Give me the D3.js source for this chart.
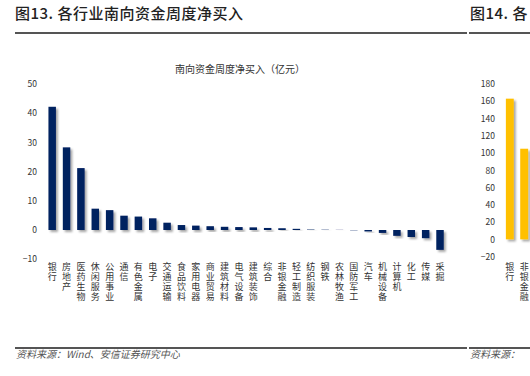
<!DOCTYPE html>
<html>
<head>
<meta charset="utf-8">
<script src="https://cdn.jsdelivr.net/npm/d3@7"></script>
<style>
  body { margin: 0; background: #fff; }
  text { font-family: "Noto Sans CJK SC", "Noto Sans", sans-serif; }
</style>
</head>
<body>
<svg id="mySvg"></svg>
<script>
// Industry names (left chart)
const categories = ["银行", "房地产", "医药生物", "休闲服务", "公用事业", "通信", "有色金属", "电子",
  "交通运输", "食品饮料", "家用电器", "商业贸易", "建筑材料", "电气设备", "建筑装饰", "综合",
  "非银金融", "轻工制造", "纺织服装", "钢铁", "农林牧渔", "国防军工", "汽车", "机械设备",
  "计算机", "化工", "传媒", "采掘"];
// Weekly southbound net buy, 100m CNY
const netBuy = [42.2, 28.3, 21.2, 7.3, 6.8, 4.9, 4.6, 4.0, 2.5, 1.7, 1.5, 1.3, 1.1, 1.0, 0.9, 0.7,
  0.6, 0.4, 0.15, 0.1, 0.05, -0.1, -0.5, -1.0, -2.0, -2.4, -2.8, -6.8];
const leftTicks = [50, 40, 30, 20, 10, 0, -10];

// Right chart (only partly visible)
const rightCategories = ["银行", "非银金融"];
const rightValues = [163, 105];
const rightTicks = [180, 160, 140, 120, 100, 80, 60, 40, 20, 0, -20];

const width = 530, height = 376;
const svg = d3.select("#mySvg").attr("width", width).attr("height", height);

// drop shadow for bars
const defs = svg.append("defs");
const f = defs.append("filter").attr("id", "shadow")
  .attr("x", "-50%").attr("y", "-50%").attr("width", "200%").attr("height", "200%");
f.append("feDropShadow").attr("dx", 2).attr("dy", 2).attr("stdDeviation", 1.2)
  .attr("flood-color", "#000").attr("flood-opacity", 0.35);

// header + footer
svg.append("text").attr("x", 15).attr("y", 19)
  .attr("font-size", 15).attr("letter-spacing", 0.5).attr("font-weight", 500).attr("fill", "#222")
  .text("图13. 各行业南向资金周度净买入");
svg.append("text").attr("x", 470).attr("y", 19)
  .attr("font-size", 15).attr("letter-spacing", 0.5).attr("font-weight", 500).attr("fill", "#222")
  .text("图14. 各");
svg.append("rect").attr("x", 15).attr("y", 32).attr("width", 452).attr("height", 2).attr("fill", "#555");
svg.append("rect").attr("x", 469).attr("y", 32).attr("width", 61).attr("height", 2).attr("fill", "#555");
svg.append("rect").attr("x", 15).attr("y", 347).attr("width", 452).attr("height", 2).attr("fill", "#555");
svg.append("rect").attr("x", 469).attr("y", 347).attr("width", 61).attr("height", 2).attr("fill", "#555");
svg.append("text").attr("x", 16).attr("y", 358)
  .attr("font-size", 10).attr("font-style", "italic").attr("fill", "#555")
  .text("资料来源：Wind、安信证券研究中心");
svg.append("text").attr("x", 470).attr("y", 358)
  .attr("font-size", 10).attr("font-style", "italic").attr("fill", "#555")
  .text("资料来源：");

// chart title
svg.append("text").attr("x", 240).attr("y", 73).attr("text-anchor", "middle")
  .attr("font-size", 10).attr("fill", "#333")
  .text("南向资金周度净买入（亿元）");

// ---- left chart ----
const x = d3.scaleBand().domain(categories).range([45, 447.2]).paddingInner(0.48).paddingOuter(0.24);
const y = d3.scaleLinear().domain([-10, 50]).range([259.2, 84]);

const yAxis = svg.append("g").attr("transform", "translate(37,0)")
  .call(d3.axisLeft(y).tickValues(leftTicks).tickSize(0).tickPadding(0));
yAxis.select(".domain").remove();
yAxis.selectAll("text").attr("font-size", 8.5).attr("fill", "#333")
  .attr("font-family", "'Liberation Sans', sans-serif");

svg.append("g").selectAll("rect").data(netBuy).join("rect")
  .attr("x", (d, i) => x(categories[i]))
  .attr("width", x.bandwidth())
  .attr("y", d => y(Math.max(0, d)))
  .attr("height", d => Math.abs(y(d) - y(0)))
  .attr("fill", "#002060")
  .attr("filter", "url(#shadow)");

// vertical category labels, one character per text element
function vLabels(g, cats, scale, top, size) {
  g.selectAll("g").data(cats).join("g")
    .attr("transform", d => `translate(${scale(d) + scale.bandwidth() / 2},${top})`)
    .selectAll("text").data(d => Array.from(d)).join("text")
    .attr("y", (ch, k) => k * (size + 1))
    .attr("font-size", size).attr("fill", "#333").attr("text-anchor", "middle")
    .text(ch => ch);
}
vLabels(svg.append("g"), categories, x, 270, 9);

// ---- right chart ----
const x2 = d3.scaleBand().domain(rightCategories).range([503, 531]).paddingInner(0.45).paddingOuter(0.2);
const y2 = d3.scaleLinear().domain([-20, 180]).range([256.6, 84]);

const yAxis2 = svg.append("g").attr("transform", "translate(495,0)")
  .call(d3.axisLeft(y2).tickValues(rightTicks).tickSize(0).tickPadding(0));
yAxis2.select(".domain").remove();
yAxis2.selectAll("text").attr("font-size", 8.5).attr("fill", "#333")
  .attr("font-family", "'Liberation Sans', sans-serif");

svg.append("g").selectAll("rect").data(rightValues).join("rect")
  .attr("x", (d, i) => x2(rightCategories[i]))
  .attr("width", x2.bandwidth())
  .attr("y", d => y2(Math.max(0, d)))
  .attr("height", d => Math.abs(y2(d) - y2(0)))
  .attr("fill", "#FFC000")
  .attr("filter", "url(#shadow)");

vLabels(svg.append("g"), rightCategories, x2, 270, 9);
</script>
</body>
</html>
